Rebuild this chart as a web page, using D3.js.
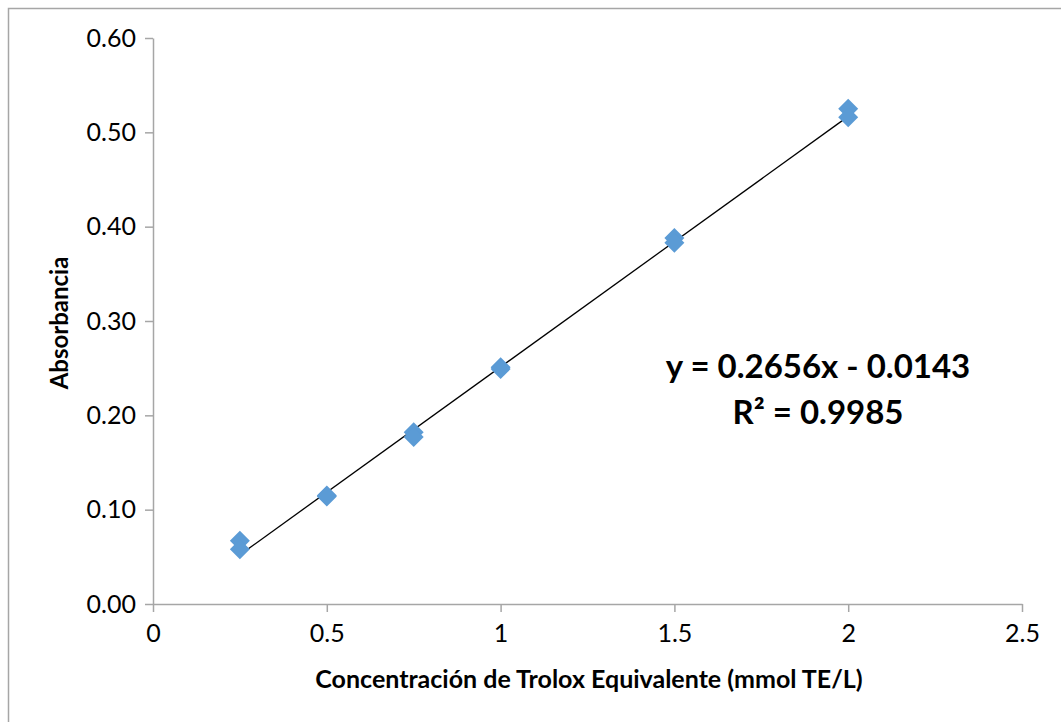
<!DOCTYPE html>
<html>
<head>
<meta charset="utf-8">
<script src="https://cdn.jsdelivr.net/npm/d3@7"></script>
<style>
  body { margin: 0; background: #fff; }
  svg text { font-family: Lato, "Open Sans", sans-serif; }
</style>
</head>
<body>
<div id="chart"></div>
<script>
// concentracion (mmol TE/L) vs absorbancia, duplicados
const concentration = [0.25, 0.25, 0.5, 0.5, 0.75, 0.75, 1, 1, 1.5, 1.5, 2, 2];
const absorbance = [0.067, 0.058, 0.115, 0.114, 0.182, 0.177, 0.251, 0.249, 0.388, 0.383, 0.525, 0.516];

const xTicks = [0, 0.5, 1, 1.5, 2, 2.5];
const yTicks = [0, 0.1, 0.2, 0.3, 0.4, 0.5, 0.6];

// trendline from the equation shown on the chart
const slope = 0.2656;
const intercept = -0.0143;
const eqLines = ["y = 0.2656x - 0.0143", "R² = 0.9985"];

const w = 1061, h = 722;
const margin = { top: 38, right: 39, bottom: 118, left: 153 };

const svg = d3.select("#chart").append("svg")
    .attr("width", w)
    .attr("height", h);

// outer chart border (only left and top visible)
svg.append("rect")
    .attr("x", 8.5)
    .attr("y", 8.5)
    .attr("width", w + 20)
    .attr("height", h + 20)
    .attr("fill", "none")
    .attr("stroke", "#a6a6a6")
    .attr("stroke-width", 1.5);

const x = d3.scaleLinear()
    .domain([0, 2.5])
    .range([margin.left, w - margin.right]);

const y = d3.scaleLinear()
    .domain([0, 0.6])
    .range([h - margin.bottom, margin.top]);

// axes
const xAxis = svg.append("g")
    .attr("transform", `translate(0,${h - margin.bottom})`)
    .call(d3.axisBottom(x).tickValues(xTicks).tickFormat(d3.format("")).tickSize(8).tickSizeOuter(0));

const yAxis = svg.append("g")
    .attr("transform", `translate(${margin.left},0)`)
    .call(d3.axisLeft(y).tickValues(yTicks).tickFormat(d3.format(".2f")).tickSize(8).tickSizeOuter(0));

[xAxis, yAxis].forEach(g => {
    g.select(".domain").attr("stroke", "#a6a6a6").attr("stroke-width", 1.5);
    g.selectAll(".tick line").attr("stroke", "#a6a6a6").attr("stroke-width", 1.5);
    g.selectAll(".tick text")
        .attr("fill", "#000")
        .attr("font-size", 25)
        .style("font-family", "Lato, 'Open Sans', sans-serif");
});
xAxis.selectAll(".tick text").attr("y", 20).attr("dy", "0.71em");
yAxis.selectAll(".tick text").attr("x", -17);

// trendline
const xMin = d3.min(concentration), xMax = d3.max(concentration);
svg.append("line")
    .attr("x1", x(xMin))
    .attr("y1", y(slope * xMin + intercept))
    .attr("x2", x(xMax))
    .attr("y2", y(slope * xMax + intercept))
    .attr("stroke", "#000")
    .attr("stroke-width", 1.3);

// markers (diamonds)
const diamond = d3.symbol().type(d3.symbolSquare).size(200);
svg.selectAll("path.pt")
    .data(concentration.map((c, i) => ({ c, a: absorbance[i] })))
    .enter()
    .append("path")
    .attr("class", "pt")
    .attr("d", diamond)
    .attr("transform", d => `translate(${x(d.c)},${y(d.a)}) rotate(45)`)
    .attr("fill", "#5b9bd5");

// draw the line over the markers like Excel does
svg.select("line").raise();

// equation label
svg.append("g")
    .selectAll("text")
    .data(eqLines)
    .enter()
    .append("text")
    .attr("x", 818)
    .attr("y", (d, i) => 378 + i * 46)
    .attr("text-anchor", "middle")
    .attr("font-size", 33)
    .attr("font-weight", "bold")
    .text(d => d);

// axis titles
svg.append("text")
    .attr("transform", "rotate(-90)")
    .attr("x", -323)
    .attr("y", 68)
    .attr("text-anchor", "middle")
    .attr("font-size", 24)
    .attr("font-weight", "bold")
    .text("Absorbancia");

svg.append("text")
    .attr("x", 589)
    .attr("y", 688)
    .attr("text-anchor", "middle")
    .attr("font-size", 25)
    .attr("font-weight", "bold")
    .text("Concentración de Trolox Equivalente (mmol TE/L)");
</script>
</body>
</html>
